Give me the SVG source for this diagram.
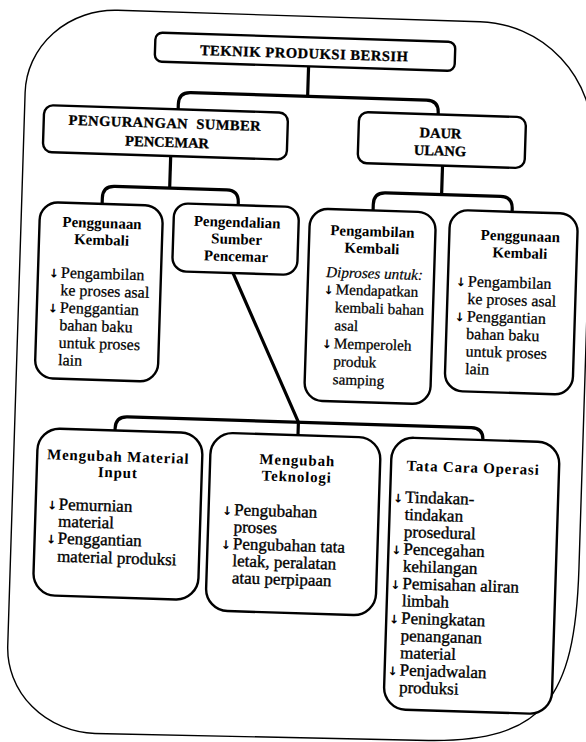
<svg xmlns="http://www.w3.org/2000/svg" width="586" height="742" viewBox="0 0 586 742">
  <style>
    .frame { fill: none; stroke: #000; stroke-width: 1.4; }
    .box { fill: #fff; stroke: #000; stroke-width: 2.4; }
    .link { fill: none; stroke: #000; stroke-width: 3.2; stroke-linejoin: round; }
    .cap { font-family: "Liberation Serif", serif; font-weight: bold; font-size: 14.5px; text-anchor: middle; fill: #000; stroke: #000; stroke-width: 0.3; }
    .ttl { font-family: "Liberation Serif", serif; font-weight: bold; font-size: 15px; text-anchor: middle; fill: #000; }
    .ttl2 { font-family: "Liberation Serif", serif; font-weight: bold; font-size: 15px; letter-spacing: 0.8px; text-anchor: middle; fill: #000; }
    .txt { font-family: "Liberation Serif", serif; font-size: 16px; fill: #000; stroke: #000; stroke-width: 0.25; }
    .txs { font-family: "Liberation Serif", serif; font-size: 15.2px; fill: #000; stroke: #000; stroke-width: 0.25; }
    .txt2 { font-family: "Liberation Serif", serif; font-size: 17px; fill: #000; stroke: #000; stroke-width: 0.35; }
    .it { font-family: "Liberation Serif", serif; font-style: italic; font-size: 15.2px; fill: #000; stroke: #000; stroke-width: 0.2; }
    .bul { font-family: "DejaVu Sans", sans-serif; font-weight: bold; font-size: 12px; text-anchor: middle; fill: #000; }
  </style>
  <rect width="586" height="742" fill="#fff"/>
  <g transform="rotate(1.8 293 371)">
    <!-- outer rounded frame -->
    <path class="frame" d="M106.5,16 H469 A116,116 0 0 1 585,132 V560 C585,690 555,734 440,736 L106.5,739.5 A90,85 0 0 1 16.5,654.5 V101 A90,85 0 0 1 106.5,16 Z"/>

    <g id="connectors">
      <path class="link" d="M299,66 V96"/>
      <path class="link" d="M170,114 V108 Q170,96 182,96 H418 Q430,96 430,108 V110"/>
      <path class="link" d="M164,159 V192"/>
      <path class="link" d="M97,210 V204 Q97,192 109,192 H221 Q233,192 233,204 V207"/>
      <path class="link" d="M436,161 V190"/>
      <path class="link" d="M368,208 V202 Q368,190 380,190 H495 Q507,190 507,202 V205"/>
      <path class="link" d="M230,275 L300,422 V435"/>
      <path class="link" d="M117,436 V434 Q117,422 129,422 H473 Q485,422 485,434"/>
    </g>

    <g id="teknik-produksi-bersih">
      <rect class="box" x="145" y="37" width="300" height="29" rx="7"/>
      <text class="cap" x="294" y="58" textLength="208" lengthAdjust="spacing">TEKNIK PRODUKSI BERSIH</text>
    </g>

    <g id="pengurangan-sumber-pencemar">
      <rect class="box" x="36" y="113" width="244" height="47" rx="9"/>
      <text class="cap" x="157" y="132" textLength="192" lengthAdjust="spacing" xml:space="preserve">PENGURANGAN  SUMBER</text>
      <text class="cap" x="160" y="151">PENCEMAR</text>
    </g>

    <g id="daur-ulang">
      <rect class="box" x="351" y="110" width="167" height="51" rx="9"/>
      <text class="cap" x="433" y="133.5">DAUR</text>
      <text class="cap" x="433" y="151">ULANG</text>
    </g>

    <g id="penggunaan-kembali-1">
      <rect class="box" x="35" y="210" width="123" height="176" rx="18"/>
      <text class="ttl" x="97.5" y="234">Penggunaan</text>
      <text class="ttl" x="97.5" y="251">Kembali</text>
      <text class="bul" x="51" y="285">↓</text>
      <text class="txt" x="58" y="285">Pengambilan</text>
      <text class="txt" x="58" y="302.5">ke proses asal</text>
      <text class="bul" x="51" y="320">↓</text>
      <text class="txt" x="58" y="320">Penggantian</text>
      <text class="txt" x="58" y="337.5">bahan baku</text>
      <text class="txt" x="58" y="355">untuk proses</text>
      <text class="txt" x="58" y="372.5">lain</text>
    </g>

    <g id="pengendalian-sumber-pencemar">
      <rect class="box" x="169" y="207" width="125" height="68" rx="14"/>
      <text class="ttl" x="232.5" y="229">Pengendalian</text>
      <text class="ttl" x="232.5" y="246">Sumber</text>
      <text class="ttl" x="232.5" y="263">Pencemar</text>
    </g>

    <g id="pengambilan-kembali">
      <rect class="box" x="305" y="208" width="126" height="192" rx="18"/>
      <text class="ttl" x="368" y="234">Pengambilan</text>
      <text class="ttl" x="368" y="251">Kembali</text>
      <text class="it" x="323" y="276">Diproses untuk:</text>
      <text class="bul" x="326" y="293">↓</text>
      <text class="txs" x="333" y="293">Mendapatkan</text>
      <text class="txs" x="333" y="311">kembali bahan</text>
      <text class="txs" x="333" y="329">asal</text>
      <text class="bul" x="326" y="347">↓</text>
      <text class="txs" x="333" y="347">Memperoleh</text>
      <text class="txs" x="333" y="365">produk</text>
      <text class="txs" x="333" y="383">samping</text>
    </g>

    <g id="penggunaan-kembali-2">
      <rect class="box" x="445" y="205" width="128" height="181" rx="18"/>
      <text class="ttl" x="516" y="234">Penggunaan</text>
      <text class="ttl" x="516" y="251">Kembali</text>
      <text class="bul" x="458" y="281">↓</text>
      <text class="txt" x="465" y="281">Pengambilan</text>
      <text class="txt" x="465" y="298.5">ke proses asal</text>
      <text class="bul" x="458" y="316">↓</text>
      <text class="txt" x="465" y="316">Penggantian</text>
      <text class="txt" x="465" y="333.5">bahan baku</text>
      <text class="txt" x="465" y="351">untuk proses</text>
      <text class="txt" x="465" y="368.5">lain</text>
    </g>

    <g id="mengubah-material-input">
      <rect class="box" x="40" y="436" width="165" height="167" rx="22"/>
      <text class="ttl2" x="121" y="467">Mengubah Material</text>
      <text class="ttl2" x="121" y="483">Input</text>
      <text class="bul" x="56.5" y="517">↓</text>
      <text class="txt2" x="63" y="517">Pemurnian</text>
      <text class="txt2" x="63" y="534">material</text>
      <text class="bul" x="56.5" y="551">↓</text>
      <text class="txt2" x="63" y="551">Penggantian</text>
      <text class="txt2" x="63" y="569">material produksi</text>
    </g>

    <g id="mengubah-teknologi">
      <rect class="box" x="213" y="435" width="170" height="178" rx="22"/>
      <text class="ttl2" x="300" y="465">Mengubah</text>
      <text class="ttl2" x="300" y="481.5">Teknologi</text>
      <text class="bul" x="231.5" y="517">↓</text>
      <text class="txt2" x="238.5" y="517">Pengubahan</text>
      <text class="txt2" x="238.5" y="534">proses</text>
      <text class="bul" x="231.5" y="551">↓</text>
      <text class="txt2" x="238.5" y="551">Pengubahan tata</text>
      <text class="txt2" x="238.5" y="568">letak, peralatan</text>
      <text class="txt2" x="238.5" y="585">atau perpipaan</text>
    </g>

    <g id="tata-cara-operasi">
      <rect class="box" x="394" y="434" width="168" height="272" rx="22"/>
      <text class="ttl2" x="476" y="467">Tata Cara Operasi</text>
      <text class="bul" x="402" y="499">↓</text>
      <text class="txt2" x="409" y="499">Tindakan-</text>
      <text class="txt2" x="409" y="516.3">tindakan</text>
      <text class="txt2" x="409" y="533.6">prosedural</text>
      <text class="bul" x="402" y="550.9">↓</text>
      <text class="txt2" x="409" y="550.9">Pencegahan</text>
      <text class="txt2" x="409" y="568.2">kehilangan</text>
      <text class="bul" x="402" y="585.5">↓</text>
      <text class="txt2" x="409" y="585.5">Pemisahan aliran</text>
      <text class="txt2" x="409" y="602.8">limbah</text>
      <text class="bul" x="402" y="620.1">↓</text>
      <text class="txt2" x="409" y="620.1">Peningkatan</text>
      <text class="txt2" x="409" y="637.4">penanganan</text>
      <text class="txt2" x="409" y="654.7">material</text>
      <text class="bul" x="402" y="672">↓</text>
      <text class="txt2" x="409" y="672">Penjadwalan</text>
      <text class="txt2" x="409" y="689.3">produksi</text>
    </g>
  </g>
</svg>
